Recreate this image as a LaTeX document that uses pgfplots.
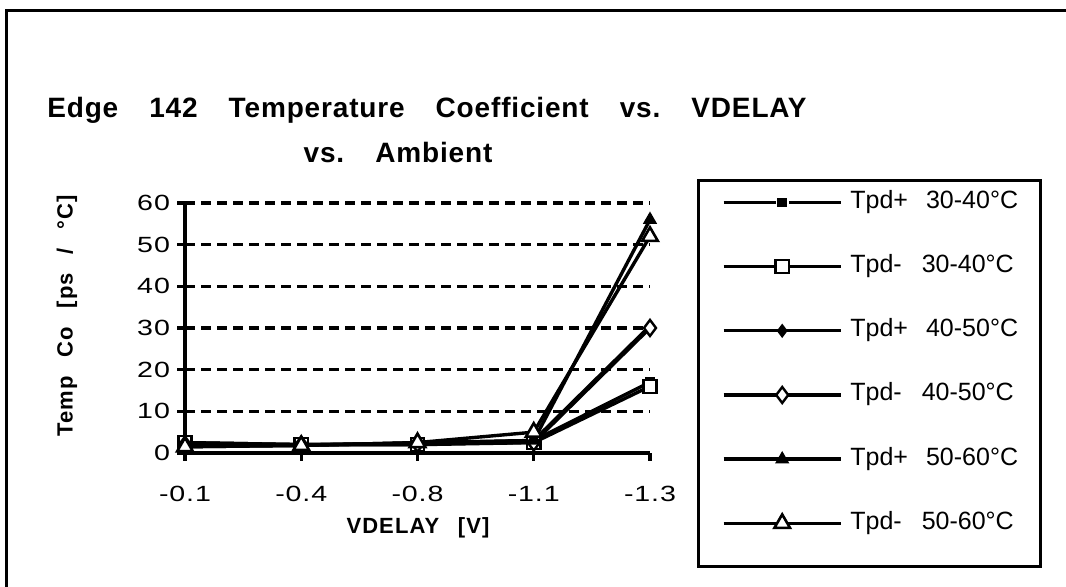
\documentclass[border=0pt]{standalone}
\usepackage{fontspec}
\setmainfont{Liberation Sans}
\frenchspacing
\newfontfamily\tickfont[FakeStretch=1.3,LetterSpace=4]{Liberation Sans}
\newfontfamily\lblfont[LetterSpace=5,WordSpace=2.6]{Liberation Sans}
\newfontfamily\titlefont[LetterSpace=3,WordSpace=3.6]{Liberation Sans}
\usepackage{pgfplots}
\pgfplotsset{compat=1.18}
\begin{document}
\begin{tikzpicture}
\useasboundingbox (0,0) rectangle (533pt,293.5pt);
\draw[line width=1.5pt] (3pt,0) -- (3pt,288pt) -- (533pt,288pt);
\draw[line width=1.5pt] (349pt,203pt) rectangle (520pt,10pt);
\node[font=\titlefont\bfseries\fontsize{14}{16}\selectfont] at (213.5pt,238.5pt) {\frenchspacing Edge 142 Temperature Coefficient vs. VDELAY};
\node[font=\titlefont\bfseries\fontsize{14}{16}\selectfont] at (199pt,217pt) {\frenchspacing vs. Ambient};
\node[rotate=90,font=\lblfont\bfseries\fontsize{11}{13}\selectfont] at (33.5pt,135.5pt) {Temp Co [ps / °C]};
\node[font=\lblfont\bfseries\fontsize{11}{13}\selectfont] at (209pt,29.5pt) {VDELAY [V]};
\begin{axis}[
  at={(92.5pt,67pt)}, anchor=south west,
  scale only axis, width=232.5pt, height=125pt,
  xmin=0, xmax=4, ymin=0, ymax=60,
  clip=false,
  axis x line=bottom, axis y line=left,
  axis line style={line width=1.6pt,-},
  xtick={0,1,2,3,4},
  xticklabels={-0.1,-0.4,-0.8,-1.1,-1.3},
  ytick={0,10,20,30,40,50,60},
  yticklabels={0,10,20,30,40,50,60},
  tick align=outside, major tick length=4pt,
  tick style={line width=1.6pt, black},
  ymajorgrids,
  major grid style={line width=1.6pt, black, dash pattern=on 5pt off 3pt},
  x tick label style={font=\tickfont\fontsize{11}{13}\selectfont, yshift=-9pt},
  y tick label style={font=\tickfont\fontsize{11}{13}\selectfont},
  legend image code/.code={\draw[mark repeat=2,mark phase=2,#1] plot coordinates {(0pt,0pt) (29.25pt,0pt) (58.5pt,0pt)};},
  legend cell align=left,
  legend style={at={(1.154,1.052)}, anchor=north west, draw=none, fill=none,
    inner sep=0pt, row sep=20.1pt, column sep=4pt,
    nodes={inner sep=0pt, anchor=west, text height=9pt, text depth=3pt},
    font=\fontsize{12.5}{15}\selectfont},
]
\addplot[line width=1.7pt, mark=square*, mark size=2.8pt, mark options={solid, fill=black, draw=white, line width=0.8pt}]
  coordinates {(0,2.5) (1,2.0) (2,2.0) (3,3.0) (4,17.0)};
\addlegendentry{Tpd+\hspace{9pt}30-40°C}
\addplot[line width=1.7pt, mark=square*, mark size=3.3pt, mark options={solid, fill=white, draw=black, line width=1.2pt}]
  coordinates {(0,2.5) (1,2.0) (2,2.0) (3,2.5) (4,16.0)};
\addlegendentry{Tpd-\hspace{10pt}30-40°C}
\addplot[line width=1.7pt, mark=diamond*, mark size=2.2pt, mark options={solid, fill=black, draw=black}]
  coordinates {(0,2.0) (1,2.0) (2,2.3) (3,3.0) (4,30.5)};
\addlegendentry{Tpd+\hspace{9pt}40-50°C}
\addplot[line width=1.7pt, mark=diamond*, mark size=4pt, mark options={solid, fill=white, draw=black, line width=1.2pt}]
  coordinates {(0,2.0) (1,2.0) (2,2.2) (3,2.5) (4,30.0)};
\addlegendentry{Tpd-\hspace{10pt}40-50°C}
\addplot[line width=1.7pt, mark=triangle*, mark size=2.4pt, mark options={solid, fill=black, draw=black}]
  coordinates {(0,1.5) (1,1.8) (2,2.5) (3,3.0) (4,56.0)};
\addlegendentry{Tpd+\hspace{9pt}50-60°C}
\addplot[line width=1.7pt, mark=triangle*, mark size=4.5pt, mark options={solid, fill=white, draw=black, line width=1.3pt}]
  coordinates {(0,1.5) (1,1.8) (2,2.5) (3,5.0) (4,52.0)};
\addlegendentry{Tpd-\hspace{10pt}50-60°C}
\end{axis}
\end{tikzpicture}
\end{document}
